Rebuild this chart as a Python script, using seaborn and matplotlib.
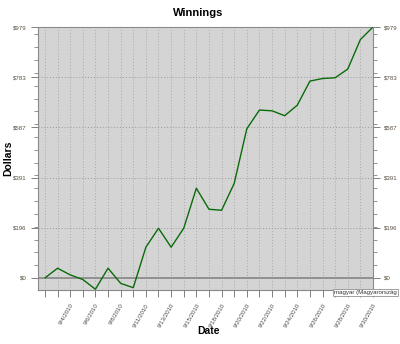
import matplotlib
matplotlib.use('Agg')
import matplotlib.pyplot as plt
import seaborn as sns
import pandas as pd
from matplotlib.ticker import FixedLocator, MultipleLocator

# ---- data ----
dates = ['9/2/2010', '9/3/2010', '9/4/2010', '9/5/2010', '9/6/2010', '9/7/2010',
         '9/8/2010', '9/10/2010', '9/11/2010', '9/12/2010', '9/13/2010', '9/14/2010',
         '9/15/2010', '9/17/2010', '9/18/2010', '9/19/2010', '9/20/2010', '9/21/2010',
         '9/22/2010', '9/23/2010', '9/24/2010', '9/25/2010', '9/26/2010', '9/27/2010',
         '9/28/2010', '9/29/2010', '9/30/2010']
winnings = [0, 38, 12, -6, -44, 38, -21, -38, 120, 194, 120, 194, 350, 268, 264,
            369, 582, 655, 652, 633, 674, 768, 778, 781, 815, 930, 979]
y_ticks = [0, 196, 391, 587, 783, 979]
y_tick_labels = ['$0', '$196', '$391', '$587', '$783', '$979']
title = 'Winnings'
x_label = 'Date'
y_label = 'Dollars'
tooltip = 'magyar (Magyarország'

sns.set_style('whitegrid', {'axes.facecolor': '#d4d4d4'})
plt.rcParams['font.family'] = ['Liberation Sans', 'DejaVu Sans']

df = pd.DataFrame({'idx': range(len(dates)), 'date': dates, 'dollars': winnings})

fig = plt.figure(figsize=(4.0, 3.44), dpi=100)
ax = fig.add_axes([38 / 400, 1 - 290 / 344, (373 - 38) / 400, (290 - 27) / 344])
ax.set_facecolor('#d4d4d4')

# grid
ax.grid(False)
for i in df['idx']:
    ax.axvline(i, color='#a8a8a8', lw=0.7, ls=(0, (1, 2)), zorder=1)
for t in y_ticks:
    ax.axhline(t, color='#9a9a9a', lw=0.7, ls=(0, (1, 2)), zorder=1)
ax.axhline(0, color='#8c8c8c', lw=1.3, zorder=1.5)

sns.lineplot(data=df, x='idx', y='dollars', ax=ax, color='#0a6b0a', lw=1.0,
             zorder=3, legend=False)

ax.set_xlim(-0.55, len(dates) - 1)
ax.set_ylim(-47, 979)

# x ticks
ax.xaxis.set_major_locator(FixedLocator(list(df['idx'])))
ax.set_xticklabels([d if i % 2 == 0 and i > 0 else '' for i, d in enumerate(dates)],
                   rotation=60, ha='right', rotation_mode='anchor', fontsize=4.4,
                   color='#4a4a4a')
ax.tick_params(axis='x', length=5, width=0.7, color='#808080', pad=4, bottom=True)

# y ticks
ax.yaxis.set_major_locator(FixedLocator(y_ticks))
ax.yaxis.set_minor_locator(MultipleLocator(50))
ax.set_yticklabels(y_tick_labels, fontsize=4.4, color='#5a5040')
ax.tick_params(axis='y', which='major', length=5, width=0.7, color='#808080', pad=3,
               left=True, right=True, labelright=True)
ax.tick_params(axis='y', which='minor', length=3, width=0.6, color='#808080',
               left=True, right=True)

for s in ax.spines.values():
    s.set_color('#8a8a8a')
    s.set_linewidth(0.8)
    s.set_visible(True)

ax.set_xlabel('')
ax.set_ylabel('')

fig.text(0.5 * (173 + 223) / 400, 1 - 13 / 344, title, ha='center', va='center',
         fontsize=8, fontweight='bold', color='black')
fig.text(8.5 / 400, 1 - 158 / 344, y_label, ha='center', va='center', rotation=90,
         fontsize=7.5, fontweight='bold', color='black')
fig.text(208 / 400, 1 - 331 / 344, x_label, ha='center', va='center',
         fontsize=7.5, fontweight='bold', color='black')
fig.text(334 / 400, 1 - 292.5 / 344, tooltip, ha='left', va='center', fontsize=4.4,
         color='#333333',
         bbox=dict(boxstyle='square,pad=0.2', fc='white', ec='#909090', lw=0.6))

fig.savefig('out.png', dpi=100)
